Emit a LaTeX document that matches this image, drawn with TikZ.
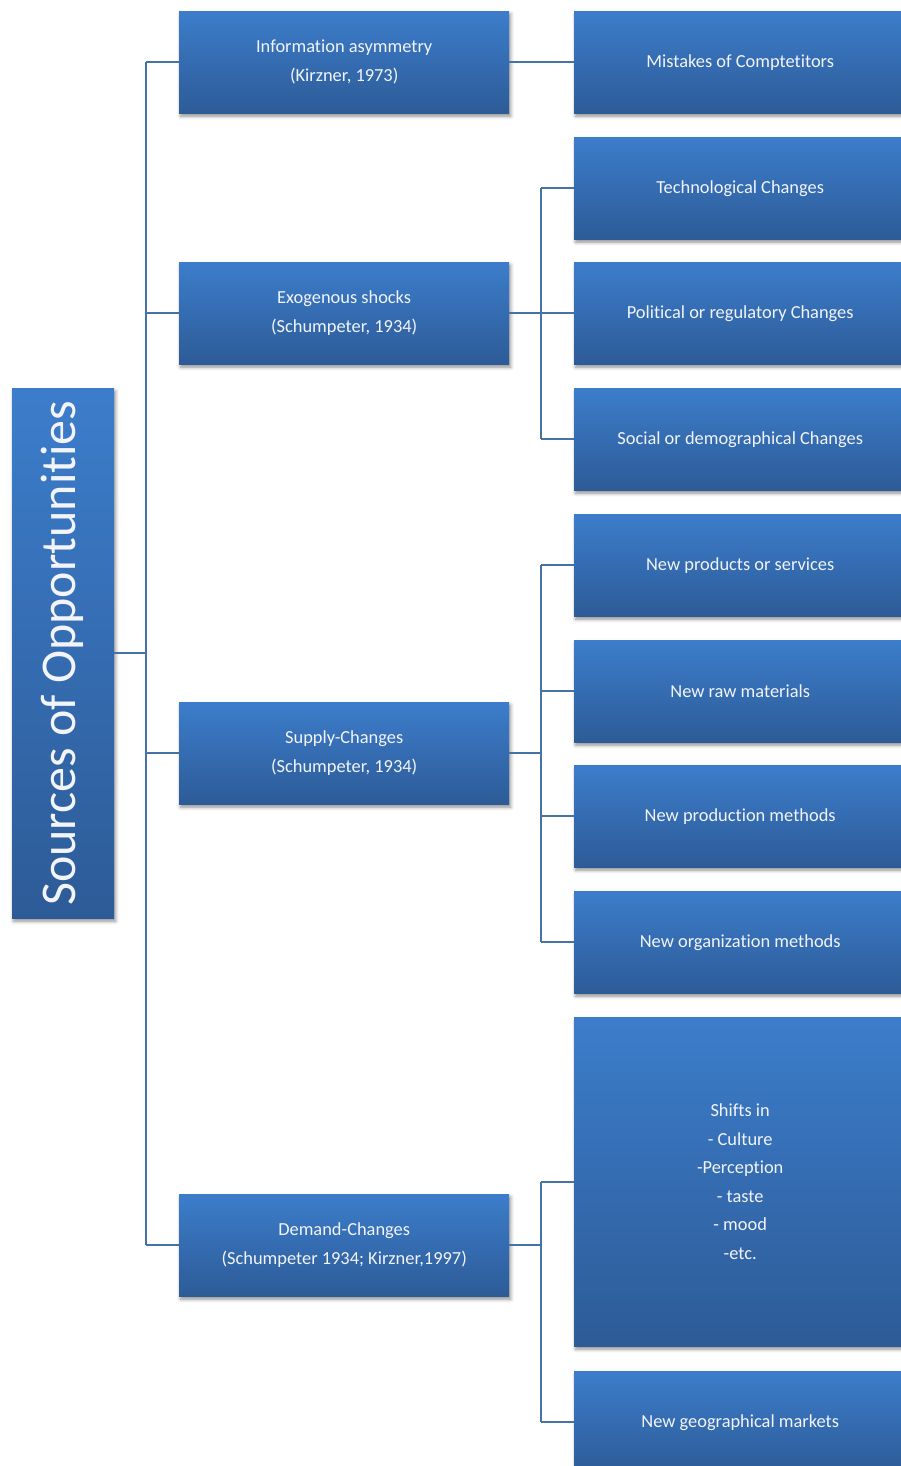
\documentclass[tikz,border=0pt]{standalone}
\usepackage{fontspec}
\setmainfont{Carlito}[Ligatures=NoCommon]
\usetikzlibrary{shadows.blur}
\definecolor{boxtop}{HTML}{3C7DCB}
\definecolor{boxbot}{HTML}{2D5B97}
\definecolor{conn}{HTML}{4572A7}
\definecolor{boxtext}{HTML}{F2F4FA}
\begin{document}
\begin{tikzpicture}[x=1pt,y=-1pt,
  boxbase/.style={rectangle, top color=boxtop, bottom color=boxbot, draw=none,
    text=boxtext, align=center, inner sep=0pt, anchor=north west,
    blur shadow={shadow xshift=1.5pt, shadow yshift=-3pt, shadow blur radius=3.5pt, shadow opacity=45},
    font=\fontsize{18.4}{28.6}\selectfont},
  midbox/.style={boxbase, minimum width=330pt, minimum height=102pt},
  rightbox/.style={boxbase, minimum width=332pt, minimum height=102pt},
  link/.style={draw=conn, line width=1.8pt}
]
\useasboundingbox (0,0) rectangle (900,1466);

% root
\node[boxbase, minimum width=102pt, minimum height=530pt] (root) at (12,388) {};
\node[rotate=90, text=boxtext, font=\fontsize{50}{50}\selectfont, inner sep=0pt] (roottext) at ([xshift=-1pt]root.center) {Sources of Opportunities};

% middle column
\node[midbox] (info) at (179,11) {Information asymmetry\\(Kirzner, 1973)};
\node[midbox] (exo) at (179,262) {Exogenous shocks\\(Schumpeter, 1934)};
\node[midbox] (supply) at (179,702) {Supply-Changes\\(Schumpeter, 1934)};
\node[midbox] (demand) at (179,1194) {Demand-Changes\\(Schumpeter 1934; Kirzner,1997)};

% right column
\node[rightbox] (mist) at (574,11) {Mistakes of Comptetitors};
\node[rightbox] (tech) at (574,137) {Technological Changes};
\node[rightbox] (pol) at (574,262) {Political or regulatory Changes};
\node[rightbox] (soc) at (574,388) {Social or demographical Changes};
\node[rightbox] (prod) at (574,514) {New products or services};
\node[rightbox] (raw) at (574,640) {New raw materials};
\node[rightbox] (meth) at (574,765) {New production methods};
\node[rightbox] (org) at (574,891) {New organization methods};
\node[rightbox, minimum height=329pt] (shift) at (574,1017) {Shifts in\\- Culture\\-Perception\\- taste\\- mood\\-etc.};
\node[rightbox] (geo) at (574,1371) {New geographical markets};

% trunk
\coordinate (t1) at (146,0);
\coordinate (t2) at (541,0);
\draw[link] (root.east) -- (t1 |- root.east);
\draw[link] (t1 |- info.west) -- (t1 |- demand.west);
\draw[link] (t1 |- info.west) -- (info.west);
\draw[link] (t1 |- exo.west) -- (exo.west);
\draw[link] (t1 |- supply.west) -- (supply.west);
\draw[link] (t1 |- demand.west) -- (demand.west);

\draw[link] (info.east) -- (mist.west);

\draw[link] (exo.east) -- (t2 |- exo.east);
\draw[link] (t2 |- tech.west) -- (t2 |- soc.west);
\draw[link] (t2 |- tech.west) -- (tech.west);
\draw[link] (t2 |- pol.west) -- (pol.west);
\draw[link] (t2 |- soc.west) -- (soc.west);

\draw[link] (supply.east) -- (t2 |- supply.east);
\draw[link] (t2 |- prod.west) -- (t2 |- org.west);
\draw[link] (t2 |- prod.west) -- (prod.west);
\draw[link] (t2 |- raw.west) -- (raw.west);
\draw[link] (t2 |- meth.west) -- (meth.west);
\draw[link] (t2 |- org.west) -- (org.west);

\draw[link] (demand.east) -- (t2 |- demand.east);
\draw[link] (t2 |- shift.west) -- (t2 |- geo.west);
\draw[link] (t2 |- shift.west) -- (shift.west);
\draw[link] (t2 |- geo.west) -- (geo.west);
\end{tikzpicture}
\end{document}
